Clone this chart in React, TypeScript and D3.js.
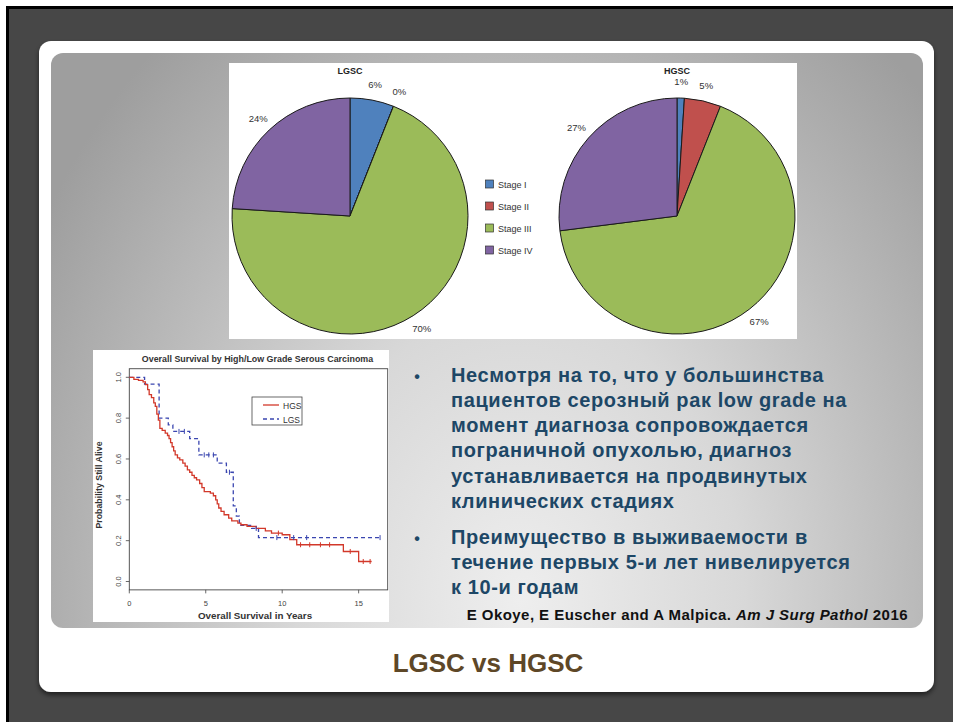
import React from 'react';
import * as d3 from 'd3';

// ---------- DATA ----------
const stages = ['Stage I', 'Stage II', 'Stage III', 'Stage IV'];
const stageColors = ['#4f81bd', '#c0504d', '#9bbb59', '#8064a2'];
const lgscValues = [6, 0, 70, 24];
const hgscValues = [1, 5, 67, 27];
const pieTitles = ['LGSC', 'HGSC'];

// Kaplan-Meier: step points (time in years, survival probability)
const hgsTime = [0, 0.3, 0.6, 0.9, 1.05, 1.2, 1.3, 1.45, 1.6, 1.7, 1.8, 1.9, 2.0, 2.15, 2.35, 2.5, 2.6, 2.7, 2.8, 2.9, 3.0, 3.15, 3.3, 3.5, 3.65, 3.8, 3.95, 4.1, 4.25, 4.4, 4.6, 4.75, 4.9, 5.3, 5.5, 5.65, 5.75, 5.85, 6.0, 6.2, 6.5, 6.7, 7.1, 7.3, 7.7, 8.3, 8.9, 9.3, 10.0, 10.5, 10.95, 14.0, 15.0];
const hgsSurv = [1.0, 0.99, 0.985, 0.978, 0.964, 0.94, 0.915, 0.9, 0.875, 0.858, 0.82, 0.79, 0.75, 0.74, 0.727, 0.715, 0.70, 0.68, 0.66, 0.64, 0.62, 0.605, 0.596, 0.58, 0.565, 0.547, 0.535, 0.52, 0.508, 0.498, 0.48, 0.46, 0.44, 0.433, 0.42, 0.40, 0.38, 0.36, 0.343, 0.327, 0.31, 0.297, 0.286, 0.278, 0.27, 0.26, 0.248, 0.237, 0.229, 0.205, 0.18, 0.147, 0.098];
const hgsEnd = 15.85;
const hgsCensorTime = [9.75, 11.2, 11.8, 12.5, 13.1, 14.45, 15.3, 15.75];
const hgsCensorSurv = [0.237, 0.18, 0.18, 0.18, 0.18, 0.147, 0.098, 0.098];

const lgsTime = [0, 1.0, 1.95, 2.55, 2.85, 3.95, 4.55, 5.75, 6.35, 6.8, 7.0, 7.2, 8.0, 8.45];
const lgsSurv = [1.0, 0.967, 0.80, 0.767, 0.735, 0.70, 0.62, 0.58, 0.535, 0.37, 0.32, 0.275, 0.26, 0.215];
const lgsEnd = 16.4;
const lgsCensorTime = [3.25, 3.6, 4.9, 5.2, 5.5, 6.55, 8.3, 9.65, 10.75, 11.6, 16.4];
const lgsCensorSurv = [0.735, 0.735, 0.62, 0.62, 0.62, 0.535, 0.26, 0.215, 0.215, 0.215, 0.215];

const kmSeries = ['HGS', 'LGS'];
const xTicks = [0, 5, 10, 15];
const yTicks = [0, 0.2, 0.4, 0.6, 0.8, 1.0];
const kmTitle = 'Overall Survival by High/Low Grade Serous Carcinoma';
const kmXLabel = 'Overall Survival in Years';
const kmYLabel = 'Probability Still Alive';

const bullet1 = [
  'Несмотря на то, что у большинства',
  'пациентов серозный рак low grade на',
  'момент диагноза сопровождается',
  'пограничной опухолью, диагноз',
  'устанавливается на продвинутых',
  'клинических стадиях',
];
const bullet2 = [
  'Преимущество в выживаемости в',
  'течение первых 5-и лет нивелируется',
  'к 10-и годам',
];
const citeAuthors = 'E Okoye, E Euscher and A Malpica. ';
const citeJournal = 'Am J Surg Pathol';
const citeYear = ' 2016';
const slideTitle = 'LGSC vs HGSC';

// ---------- COMPONENTS ----------
const FONT = 'Liberation Sans, Arial, Helvetica, sans-serif';

function PieChart({ cx, cy, values, title }: { cx: number; cy: number; values: number[]; title: string }) {
  const R = 118;
  const LR = 134;
  const arcs = d3.pie<number>().sort(null).value((d) => d)(values);
  const arc = d3.arc<d3.PieArcDatum<number>>().innerRadius(0).outerRadius(R);
  const labelArc = d3.arc<d3.PieArcDatum<number>>().innerRadius(LR).outerRadius(LR);
  return (
    <g>
      <text x={cx} y={74} textAnchor="middle" fontFamily={FONT} fontWeight="bold" fontSize={9} fill="#222">{title}</text>
      <g transform={`translate(${cx},${cy})`}>
        {arcs.map((a, i) => (
          <path key={i} d={arc(a) || ''} fill={stageColors[i]} stroke="#1a1a1a" strokeWidth={1} strokeLinejoin="round" />
        ))}
        {arcs.map((a, i) => {
          const [lx, ly] = labelArc.centroid(a);
          return (
            <text key={'l' + i} x={lx} y={ly + 3.3} textAnchor="middle" fontFamily={FONT} fontSize={9.5} fill="#333">
              {values[i] + '%'}
            </text>
          );
        })}
      </g>
    </g>
  );
}

function KMPlot() {
  const x = d3.scaleLinear().domain([0, 16.9]).range([129.3, 387.7]);
  const y = d3.scaleLinear().domain([0, 1]).range([581.5, 377.3]);
  const box = { x0: x(0), x1: x(16.9), y0: y(1.042), y1: y(-0.041) };
  const line = d3
    .line<[number, number]>()
    .x((d) => x(d[0]))
    .y((d) => y(d[1]))
    .curve(d3.curveStepAfter);
  const hgsPts: [number, number][] = hgsTime.map((t, i) => [t, hgsSurv[i]] as [number, number]);
  hgsPts.push([hgsEnd, hgsSurv[hgsSurv.length - 1]]);
  const lgsPts: [number, number][] = lgsTime.map((t, i) => [t, lgsSurv[i]] as [number, number]);
  lgsPts.push([lgsEnd, lgsSurv[lgsSurv.length - 1]]);
  const red = '#d2382a';
  const blue = '#3a46b0';
  return (
    <g fontFamily={FONT}>
      <rect x={93} y={350} width={296} height={272} fill="#fff" />
      <text x={257.5} y={362} textAnchor="middle" fontWeight="bold" fontSize={8.9} fill="#333">{kmTitle}</text>
      <rect x={box.x0} y={box.y0} width={box.x1 - box.x0} height={box.y1 - box.y0} fill="none" stroke="#444" strokeWidth={0.9} />
      {yTicks.map((t) => (
        <g key={'y' + t}>
          <line x1={box.x0 - 3.5} x2={box.x0} y1={y(t)} y2={y(t)} stroke="#444" strokeWidth={0.8} />
          <text transform={`translate(${box.x0 - 8.5},${y(t)}) rotate(-90)`} textAnchor="middle" fontSize={7.5} fill="#444">
            {t.toFixed(1)}
          </text>
        </g>
      ))}
      {xTicks.map((t) => (
        <g key={'x' + t}>
          <line x1={x(t)} x2={x(t)} y1={box.y1} y2={box.y1 + 3.5} stroke="#444" strokeWidth={0.8} />
          <text x={x(t)} y={605.5} textAnchor="middle" fontSize={7.5} fill="#444">{t}</text>
        </g>
      ))}
      <text x={255} y={618.5} textAnchor="middle" fontWeight="bold" fontSize={9.8} fill="#333">{kmXLabel}</text>
      <text transform={`translate(101.5,485) rotate(-90)`} textAnchor="middle" fontWeight="bold" fontSize={8.8} fill="#333">{kmYLabel}</text>
      <path d={line(lgsPts) || ''} fill="none" stroke={blue} strokeWidth={1.3} strokeDasharray="4,3" />
      <path d={line(hgsPts) || ''} fill="none" stroke={red} strokeWidth={1.3} />
      {lgsCensorTime.map((t, i) => (
        <line key={'lc' + i} x1={x(t)} x2={x(t)} y1={y(lgsCensorSurv[i]) - 2.5} y2={y(lgsCensorSurv[i]) + 2.5} stroke={blue} strokeWidth={1} />
      ))}
      {hgsCensorTime.map((t, i) => (
        <line key={'hc' + i} x1={x(t)} x2={x(t)} y1={y(hgsCensorSurv[i]) - 2.5} y2={y(hgsCensorSurv[i]) + 2.5} stroke={red} strokeWidth={1} />
      ))}
      <rect x={252} y={397} width={50} height={28} fill="#fff" stroke="#444" strokeWidth={0.8} />
      {kmSeries.map((s, i) => (
        <g key={s}>
          <line x1={263} x2={279} y1={405 + i * 14} y2={405 + i * 14} stroke={i === 0 ? red : blue} strokeWidth={1.3} strokeDasharray={i === 0 ? undefined : '4,3'} />
          <text x={283} y={408.5 + i * 14} fontSize={8.5} fill="#333">{s}</text>
        </g>
      ))}
    </g>
  );
}

export default function App() {
  const textColor = '#1d4766';
  const lh = 25.3;
  return (
    <svg width={953} height={722} style={{ position: 'absolute', left: 0, top: 0 }} xmlns="http://www.w3.org/2000/svg">
      <defs>
        <radialGradient id="panelGrad" gradientUnits="userSpaceOnUse" cx={520} cy={600} r={560} gradientTransform="translate(520,600) scale(1,1.3) translate(-520,-600)">
          <stop offset="0" stopColor="#eeeeee" />
          <stop offset="0.4" stopColor="#d8d8d8" />
          <stop offset="1" stopColor="#9e9e9e" />
        </radialGradient>
        <filter id="cardShadow" x="-5%" y="-5%" width="110%" height="115%">
          <feDropShadow dx={0} dy={3} stdDeviation={2.5} floodColor="#000" floodOpacity={0.55} />
        </filter>
      </defs>
      <rect x={0} y={0} width={953} height={722} fill="#fff" />
      <rect x={6} y={6} width={947} height={716} fill="#000" />
      <rect x={9} y={9} width={944} height={713} fill="#474747" />
      <rect x={39} y={41} width={895} height={651} rx={12} fill="#fff" filter="url(#cardShadow)" />
      <rect x={51} y={53} width={872} height={575} rx={12} fill="url(#panelGrad)" />

      {/* Pie panel */}
      <rect x={229} y={63} width={568} height={276} fill="#fff" />
      <PieChart cx={350} cy={216} values={lgscValues} title={pieTitles[0]} />
      <PieChart cx={677} cy={216} values={hgscValues} title={pieTitles[1]} />
      {stages.map((s, i) => (
        <g key={s}>
          <rect x={485.5} y={180 + i * 22} width={8} height={8} fill={stageColors[i]} stroke="#333" strokeWidth={0.7} />
          <text x={498} y={187.5 + i * 22} fontFamily={FONT} fontSize={9} fill="#333">{s}</text>
        </g>
      ))}

      <KMPlot />

      {/* Bullets */}
      <g fontFamily={FONT} fontWeight="bold" fontSize={20} letterSpacing={0.6} fill={textColor}>
        <text x={417} y={381.5} textAnchor="middle" fontSize={16} letterSpacing={0}>•</text>
        {bullet1.map((l, i) => (
          <text key={'b1' + i} x={451} y={381.5 + i * lh}>{l}</text>
        ))}
        <text x={417} y={543.5} textAnchor="middle" fontSize={16} letterSpacing={0}>•</text>
        {bullet2.map((l, i) => (
          <text key={'b2' + i} x={451} y={543.5 + i * lh}>{l}</text>
        ))}
      </g>
      <text x={908} y={620} textAnchor="end" fontFamily={FONT} fontWeight="bold" fontSize={15} letterSpacing={0.45} fill="#111">
        {citeAuthors}
        <tspan fontStyle="italic">{citeJournal}</tspan>
        {citeYear}
      </text>

      <text x={488} y={672} textAnchor="middle" fontFamily={FONT} fontWeight="bold" fontSize={26} fill="#5e4727">{slideTitle}</text>
    </svg>
  );
}
